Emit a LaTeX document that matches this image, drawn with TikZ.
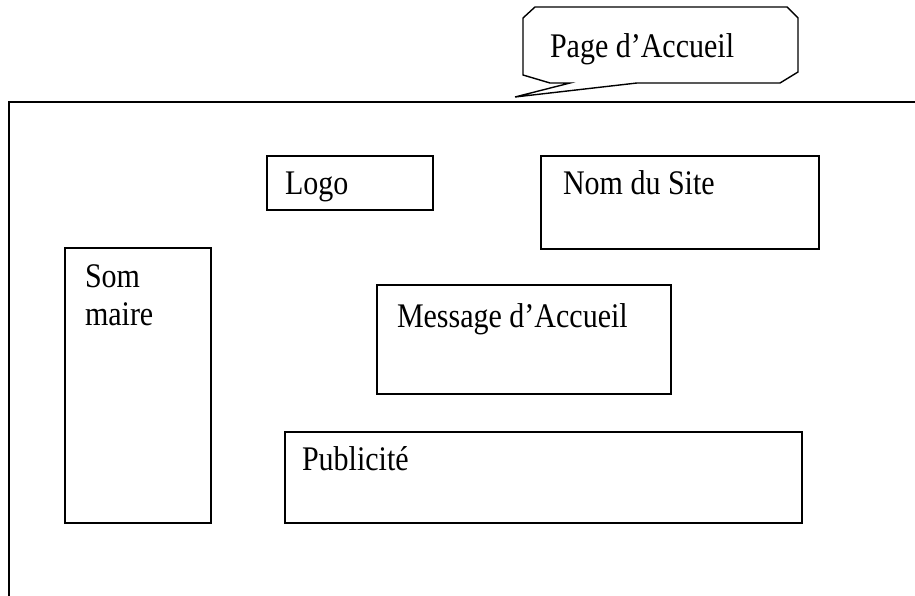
\documentclass[tikz,border=0pt]{standalone}
\usepackage{fontspec}
\setmainfont{Liberation Serif}
\newcommand{\stretchtxt}[1]{\scalebox{1}[1.15]{#1}}
\begin{document}
\begin{tikzpicture}[x=1pt,y=-1pt,
  box/.style={draw=black,line width=1.6pt,inner sep=0pt,outer sep=0pt,rectangle},
  lbl/.style={anchor=base west,inner sep=0pt,outer sep=0pt,font=\fontsize{30}{36}\selectfont}]
\useasboundingbox (0,0) rectangle (915,596);
% main frame
\coordinate (fbl) at (9,597);
\coordinate (ftl) at (9,102);
\coordinate (ftr) at (916,102);
\draw[line width=2.2pt] (fbl) -- (ftl) -- (ftr);
% callout
\draw[line width=1.4pt,fill=white,line join=miter]
  (523,18) -- (535,7) -- (787,7) -- (798,18) -- (798,72) -- (780,83) -- (637,83)
  -- (515,97) -- (570,83) -- (550,83) -- (523,75) -- cycle;
\node[lbl] (tpage) at (550,58) {\stretchtxt{Page d’Accueil}};
% boxes
\node[box,minimum width=166pt,minimum height=54pt] (logo) at (350,183) {};
\node[lbl] (tlogo) at (285,194) {\stretchtxt{Logo}};
\node[box,minimum width=278pt,minimum height=93pt] (nom) at (680,202.5) {};
\node[lbl] (tnom) at (563,194) {\stretchtxt{Nom du Site}};
\node[box,minimum width=146pt,minimum height=275pt] (som) at (138,385.5) {};
\node[lbl] (tsom1) at (85,287) {\stretchtxt{Som}};
\node[lbl] (tsom2) at (85,325) {\stretchtxt{maire}};
\node[box,minimum width=294pt,minimum height=109pt] (msg) at (524,339.5) {};
\node[lbl] (tmsg) at (397,327) {\stretchtxt{Message d’Accueil}};
\node[box,minimum width=517pt,minimum height=91pt] (pub) at (543.5,477.5) {};
\node[lbl] (tpub) at (302,470) {\stretchtxt{Publicité}};
\end{tikzpicture}
\end{document}
